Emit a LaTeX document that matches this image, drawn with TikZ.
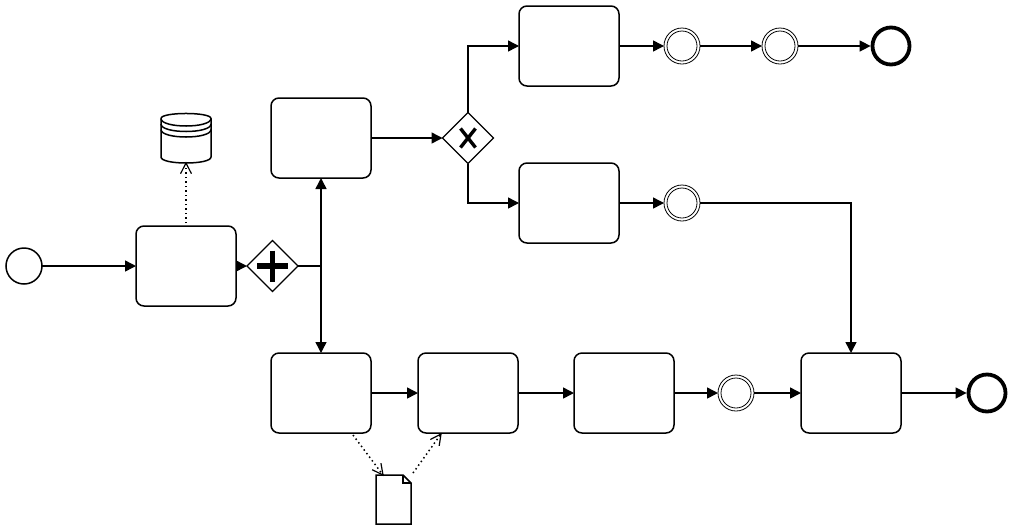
\documentclass[tikz,border=0pt]{standalone}
\usetikzlibrary{arrows.meta,shapes.geometric,calc}
\tikzset{
  ln/.style={line width=1.5pt,black},
  taskbox/.style={ln,draw,fill=white,rounded corners=8pt,minimum width=100pt,minimum height=80pt,inner sep=0pt,outer sep=0pt},
  startev/.style={ln,draw,fill=white,circle,minimum size=36pt,inner sep=0pt,outer sep=0pt},
  endev/.style={line width=3.8pt,draw,fill=white,circle,minimum size=37pt,inner sep=0pt,outer sep=1.9pt},
  interev/.style={line width=0.8pt,draw,fill=white,circle,minimum size=36pt,inner sep=0pt,outer sep=0pt},
  gate/.style={line width=1.3pt,draw,fill=white,diamond,aspect=1,minimum size=51pt,inner sep=0pt,outer sep=0pt},
  holder/.style={inner sep=0pt,outer sep=0pt,minimum width=#1},
  flow/.style={ln,-{Triangle[length=11pt,width=11pt]}},
  assocb/.style={line width=1.5pt,dash pattern=on 1.5pt off 3pt},
  barb/.style={line width=1.2pt,solid,line join=miter},
}
\newcommand{\assocline}[2]{%
  \draw[assocb] (#1) -- (#2);
  \draw[barb] ($(#2)!12pt!27:(#1)$) -- (#2) -- ($(#2)!12pt!-27:(#1)$);
}
\begin{document}
\begin{tikzpicture}[x=1pt,y=-1pt]
\useasboundingbox[fill=white] (0,0) rectangle (1011,531);
% tasks
\node[taskbox] (a) at (186,266) {};
\node[taskbox] (b) at (321,138) {};
\node[taskbox] (c) at (569,46) {};
\node[taskbox] (d) at (569,203) {};
\node[taskbox] (e) at (321,393) {};
\node[taskbox] (f) at (468,393) {};
\node[taskbox] (g) at (624,393) {};
\node[taskbox] (h) at (851,393) {};
% events
\node[startev] (s) at (24,266) {};
\foreach \n/\p in {i1/{(682,46)},i2/{(780,46)},i3/{(682,203)},i4/{(736,393)}}{
  \node[interev] (\n) at \p {};
  \draw[line width=0.8pt] \p circle (15pt);
}
\node[endev] (t1) at (891,46) {};
\node[endev] (t2) at (987,393) {};
% gateways
\node[gate] (pg) at (272.5,266) {};
\node[gate] (xg) at (468,138) {};
\draw[line width=5.5pt] ($(pg)+(-15.5,0)$) -- ($(pg)+(15.5,0)$) ($(pg)+(0,-15.5)$) -- ($(pg)+(0,15.5)$);
\draw[line width=3.4pt] ($(xg)+(-7.5,-9.5)$) -- ($(xg)+(7.5,9.5)$) ($(xg)+(7.5,-9.5)$) -- ($(xg)+(-7.5,9.5)$);
% data store
\node[holder=50pt,minimum height=50pt] (db) at (186,138) {};
\draw[ln,fill=white] (161,118.5) -- (161,157) .. controls (161,165) and (211,165) .. (211,157) -- (211,118.5)
  .. controls (211,111.8) and (161,111.8) .. (161,118.5) -- cycle;
\draw[ln] (161,118.5) .. controls (161,128.5) and (211,128.5) .. (211,118.5);
\draw[ln] (161,124) .. controls (161,134) and (211,134) .. (211,124);
\draw[ln] (161,129.5) .. controls (161,139.5) and (211,139.5) .. (211,129.5);
% data object
\node[holder=35pt,minimum height=49pt] (doc) at (393.5,499.5) {};
\draw[ln,fill=white] (376,475) -- (403,475) -- (411,483) -- (411,524) -- (376,524) -- cycle;
\draw[line width=1.2pt] (403,475) -- (403,483) -- (411,483);
% sequence flows
\draw[flow] (s.east) -- (a.west);
\draw[flow] (a.east) -- (pg.west);
\draw[flow] (pg.east) -| (b.south);
\draw[flow] (pg.east) -| (e.north);
\draw[flow] (b.east) -- (xg.west);
\draw[flow] (xg.north) |- (c.west);
\draw[flow] (xg.south) |- (d.west);
\draw[flow] (c.east) -- (i1.west);
\draw[flow] (i1.east) -- (i2.west);
\draw[flow] (i2.east) -- (t1.west);
\draw[flow] (d.east) -- (i3.west);
\draw[flow] (i3.east) -| (h.north);
\draw[flow] (e.east) -- (f.west);
\draw[flow] (f.east) -- (g.west);
\draw[flow] (g.east) -- (i4.west);
\draw[flow] (i4.east) -- (h.west);
\draw[flow] (h.east) -- (t2.west);
% associations
\coordinate (a1) at (186,223);
\coordinate (db1) at (186,163);
\coordinate (e1) at (353,435);
\coordinate (doc1) at (383,475);
\coordinate (doc2) at (413,473);
\coordinate (f1) at (441,434);
\assocline{a1}{db1}
\assocline{e1}{doc1}
\assocline{doc2}{f1}
\end{tikzpicture}
\end{document}
